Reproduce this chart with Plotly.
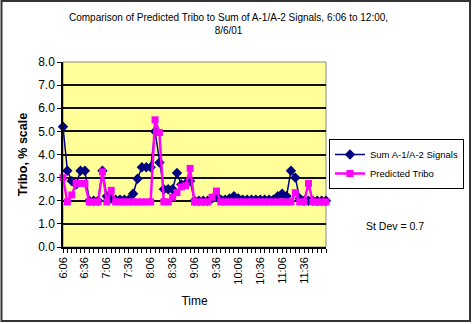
import plotly.graph_objects as go

times = ["6:06","6:12","6:18","6:24","6:30","6:36","6:42","6:48","6:54","7:00",
         "7:06","7:12","7:18","7:24","7:30","7:36","7:42","7:48","7:54","8:00",
         "8:06","8:12","8:18","8:24","8:30","8:36","8:42","8:48","8:54","9:00",
         "9:06","9:12","9:18","9:24","9:30","9:36","9:42","9:48","9:54","10:00",
         "10:06","10:12","10:18","10:24","10:30","10:36","10:42","10:48","10:54","11:00",
         "11:06","11:12","11:18","11:24","11:30","11:36","11:42","11:48","11:54","12:00",
         "12:06"]

sum_signals = [5.2, 3.3, 2.85, 2.7, 3.3, 3.3, 2.0, 2.0, 2.0, 3.3,
               2.2, 2.1, 2.05, 2.05, 2.05, 2.05, 2.3, 2.95, 3.45, 3.45,
               3.45, 5.0, 3.65, 2.5, 2.5, 2.5, 3.2, 2.7, 2.75, 2.85,
               2.0, 2.0, 2.0, 2.0, 2.1, 2.2, 2.05, 2.05, 2.1, 2.2,
               2.1, 2.05, 2.05, 2.05, 2.05, 2.05, 2.05, 2.05, 2.05, 2.2,
               2.3, 2.2, 3.3, 3.0, 2.1, 2.0, 2.0, 2.0, 2.0, 2.0,
               2.0]

predicted = [3.0, 1.95, 2.25, 2.75, 2.75, 2.75, 1.95, 1.95, 1.95, 3.25,
             1.95, 2.45, 1.95, 1.95, 1.95, 1.95, 1.95, 1.95, 1.95, 1.95,
             1.95, 5.5, 4.95, 1.95, 1.95, 2.15, 2.35, 2.6, 2.65, 3.4,
             1.95, 1.95, 1.95, 1.95, 2.15, 2.42, 1.95, 1.95, 1.95, 1.95,
             1.95, 1.95, 1.95, 1.95, 1.95, 1.95, 1.95, 1.95, 1.95, 1.95,
             1.95, 1.95, 1.95, 2.35, 1.95, 1.95, 2.75, 1.95, 1.95, 1.95,
             1.95]

idx = list(range(len(times)))
ticktext = [t if i % 5 == 0 and i < 60 else "" for i, t in enumerate(times)]

FONT = "Liberation Sans, Arial, sans-serif"

# plot area in pixels
W, H = 475, 324
L, R, T, B = 63, 326, 62, 247

def px(x):
    return (x - L) / (R - L)

def py(y):
    return (B - y) / (B - T)

fig = go.Figure()
fig.add_trace(go.Scatter(
    x=idx, y=sum_signals, mode="lines+markers", name="Sum A-1/A-2 Signals",
    line=dict(color="#000080", width=1.5),
    marker=dict(symbol="diamond", size=8, color="#000080"),
    cliponaxis=False,
))
fig.add_trace(go.Scatter(
    x=idx, y=predicted, mode="lines+markers", name="Predicted Tribo",
    line=dict(color="#FF00FF", width=2.5),
    marker=dict(symbol="square", size=7, color="#FF00FF"),
    cliponaxis=False,
))

fig.update_layout(
    width=W, height=H,
    margin=dict(l=L, r=W - R, t=T, b=H - B, pad=0, autoexpand=False),
    paper_bgcolor="white",
    plot_bgcolor="#FFFF99",
    font=dict(family=FONT, color="black", size=11),
    showlegend=True,
    legend=dict(
        x=px(329), y=py(139), xanchor="left", yanchor="top",
        bgcolor="white", bordercolor="black", borderwidth=1,
        font=dict(family=FONT, size=9.5),
        tracegroupgap=0, itemwidth=30,
    ),
    xaxis=dict(
        range=[0, len(times) - 1], automargin=False,
        tickmode="array", tickvals=idx, ticktext=ticktext,
        tickangle=-90, tickfont=dict(size=11),
        ticks="outside", ticklen=4, tickcolor="black", tickwidth=1,
        showline=True, linecolor="black", linewidth=1.5,
        showgrid=False, zeroline=False,
        title=dict(text="Time", font=dict(size=12), standoff=13),
    ),
    yaxis=dict(
        range=[0, 8], dtick=1, tickformat=".1f", automargin=False,
        tickfont=dict(size=12),
        ticks="outside", ticklen=4, tickcolor="black",
        showline=True, linecolor="black", linewidth=1.5,
        showgrid=True, gridcolor="#111111", gridwidth=2,
        zeroline=False,
        title=dict(text="<b>Tribo, % scale</b>", font=dict(size=12.5), standoff=8),
    ),
    shapes=[
        dict(type="rect", xref="paper", yref="paper",
             x0=0, x1=1, y0=0, y1=1, line=dict(color="#888888", width=1),
             layer="below"),
        dict(type="rect", xref="paper", yref="paper",
             x0=px(1.5), x1=px(470), y0=py(1), y1=py(321),
             line=dict(color="#333333", width=2)),
    ],
    annotations=[
        dict(text="Comparison of Predicted Tribo to Sum of A-1/A-2 Signals, 6:06 to 12:00,<br>8/6/01",
             xref="paper", yref="paper", x=px(228), y=py(10), xanchor="center", yanchor="top",
             showarrow=False, font=dict(size=10)),
        dict(text="St Dev = 0.7", xref="paper", yref="paper",
             x=px(395), y=py(226), xanchor="center", yanchor="middle",
             showarrow=False, font=dict(size=10.5)),
    ],
)

fig.write_html("out.html")
